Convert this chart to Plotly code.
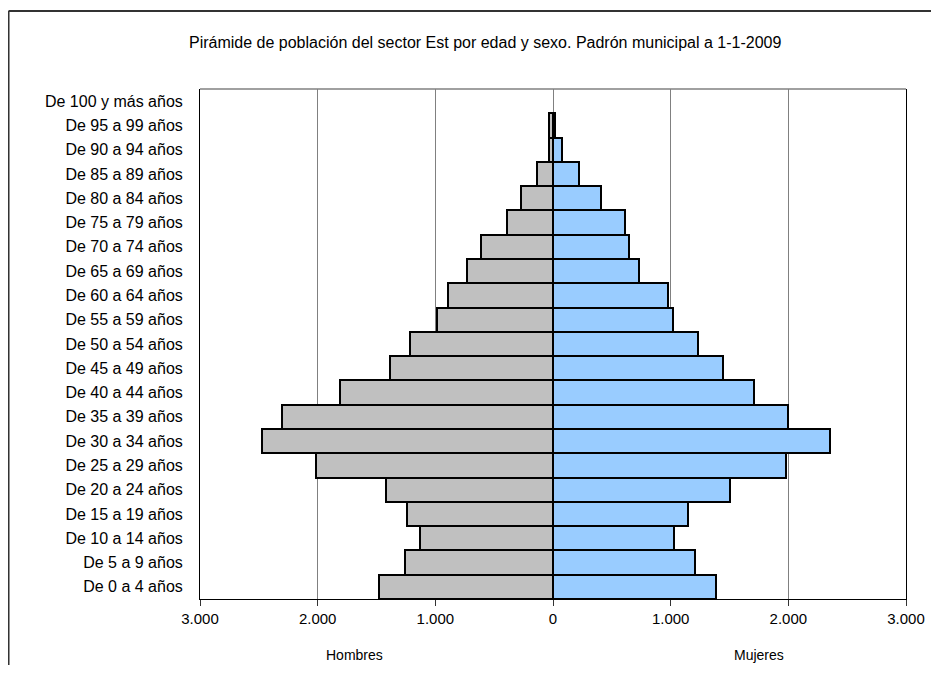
import plotly.graph_objects as go

categories = ["De 0 a 4 años", "De 5 a 9 años", "De 10 a 14 años", "De 15 a 19 años",
              "De 20 a 24 años", "De 25 a 29 años", "De 30 a 34 años", "De 35 a 39 años",
              "De 40 a 44 años", "De 45 a 49 años", "De 50 a 54 años", "De 55 a 59 años",
              "De 60 a 64 años", "De 65 a 69 años", "De 70 a 74 años", "De 75 a 79 años",
              "De 80 a 84 años", "De 85 a 89 años", "De 90 a 94 años", "De 95 a 99 años",
              "De 100 y más años"]
hombres = [1480, 1260, 1128, 1244, 1418, 2010, 2477, 2307, 1814, 1389, 1219, 984,
           895, 731, 612, 391, 272, 139, 35, 35, 0]
mujeres = [1385, 1208, 1027, 1144, 1502, 1980, 2353, 1993, 1706, 1448, 1230, 1023,
           975, 735, 649, 615, 411, 224, 80, 17, 0]
tick_vals = [-3000, -2000, -1000, 0, 1000, 2000, 3000]
tick_text = ["3.000", "2.000", "1.000", "0", "1.000", "2.000", "3.000"]
title_text = "Pirámide de población del sector Est por edad y sexo. Padrón municipal a 1-1-2009"

FONT = "Liberation Sans, Arial, sans-serif"

# no outline on empty bars
line_w_h = [2 if v > 0 else 0 for v in hombres]
line_w_m = [2 if v > 0 else 0 for v in mujeres]

fig = go.Figure()
fig.add_trace(go.Bar(
    y=categories, x=[-v for v in hombres], orientation="h", name="Hombres",
    marker=dict(color="#C0C0C0", line=dict(color="black", width=line_w_h)),
    hoverinfo="skip"))
fig.add_trace(go.Bar(
    y=categories, x=mujeres, orientation="h", name="Mujeres",
    marker=dict(color="#99CCFF", line=dict(color="black", width=line_w_m)),
    hoverinfo="skip"))

fig.update_layout(
    width=923, height=657,
    margin=dict(l=192, r=25, t=81, b=66, autoexpand=False),
    paper_bgcolor="white", plot_bgcolor="white",
    barmode="overlay", bargap=0,
    showlegend=False,
    font=dict(family=FONT, size=15, color="black"),
    xaxis=dict(
        range=[-3000, 3000], tickvals=tick_vals, ticktext=tick_text,
        showgrid=True, gridcolor="#808080", gridwidth=1,
        zeroline=True, zerolinecolor="#808080", zerolinewidth=1,
        showline=True, linecolor="black", linewidth=1,
        ticks="outside", ticklen=6, tickcolor="#333333",
        tickfont=dict(family=FONT, size=15, color="black"),
        automargin=False, fixedrange=True),
    yaxis=dict(
        categoryorder="array", categoryarray=categories,
        range=[-0.5, len(categories) - 0.5],
        showgrid=False, zeroline=False,
        showline=True, linecolor="black", linewidth=1, mirror=True,
        ticks="", ticklabelstandoff=13,
        tickfont=dict(family=FONT, size=16, color="black"),
        automargin=False, fixedrange=True),
    shapes=[
        dict(type="line", xref="paper", yref="paper", x0=0, x1=1, y0=1, y1=1,
             line=dict(color="#808080", width=1.5)),
        dict(type="line", xref="paper", yref="paper", x0=-0.2712, x1=1.06,
             y0=1.153, y1=1.153, line=dict(color="#333333", width=2)),
        dict(type="line", xref="paper", yref="paper", x0=-0.2712, x1=-0.2712,
             y0=1.153, y1=-0.2, line=dict(color="#333333", width=2)),
    ],
    annotations=[
        dict(text=title_text, xref="paper", yref="paper", x=0.404, y=1.092,
             showarrow=False, xanchor="center", yanchor="middle",
             font=dict(family=FONT, size=16, color="black")),
        dict(text="Hombres", xref="x", yref="paper", x=-1690, y=-0.11,
             showarrow=False, xanchor="center", yanchor="middle",
             font=dict(family=FONT, size=14, color="black")),
        dict(text="Mujeres", xref="x", yref="paper", x=1750, y=-0.11,
             showarrow=False, xanchor="center", yanchor="middle",
             font=dict(family=FONT, size=14, color="black")),
    ],
)

fig.write_html("out.html")
